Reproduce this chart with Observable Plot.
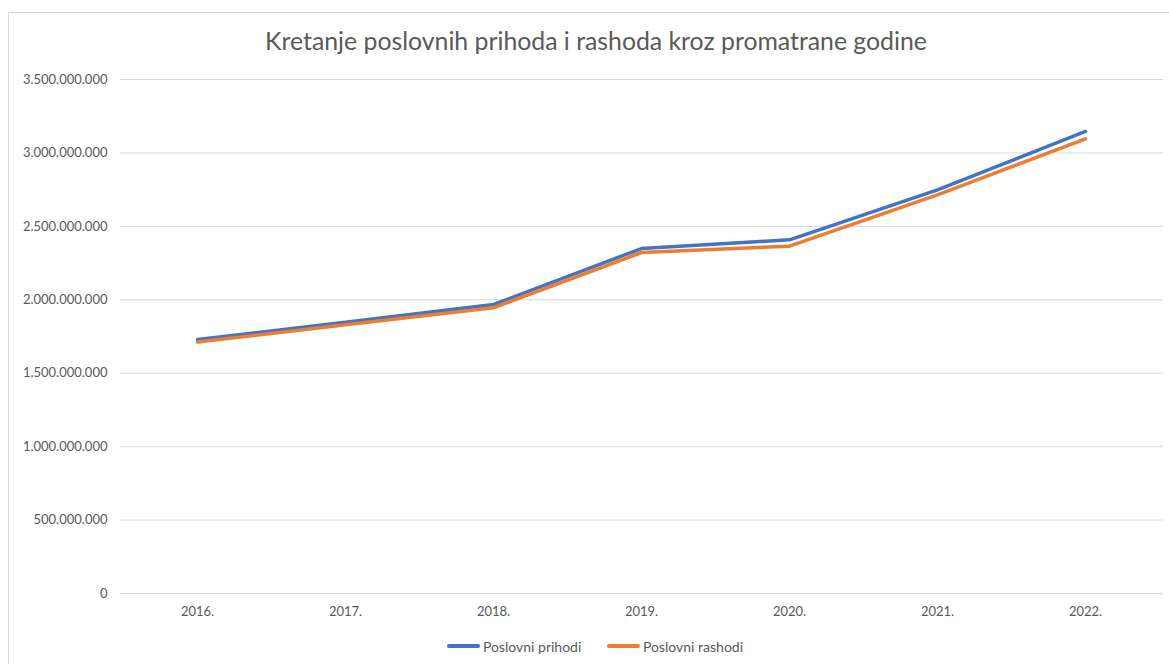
<!DOCTYPE html>
<html>
<head>
<meta charset="utf-8">
<script src="https://cdn.jsdelivr.net/npm/d3@7"></script>
<script src="https://cdn.jsdelivr.net/npm/@observablehq/plot@0.6"></script>
<style>
  html, body { margin: 0; padding: 0; background: #fff; }
  body { width: 1169px; height: 664px; position: relative; overflow: hidden; font-family: Lato, "Open Sans", sans-serif; }
  #frame { position: absolute; left: 8px; top: 12px; width: 1200px; height: 700px; border-left: 1px solid #d9d9d9; border-top: 1px solid #d9d9d9; }
  #title { position: absolute; left: 0; top: 26px; width: 1192px; text-align: center; font-size: 24.8px; color: #595959; }
  #chart { position: absolute; left: 0; top: 60px; }
  #legend { position: absolute; top: 636px; left: 0; width: 1169px; height: 20px; }
  .item { position: absolute; top: 0; display: flex; align-items: center; font-size: 14px; color: #595959; height: 20px; }
  .swatch { width: 33px; height: 4px; border-radius: 2px; margin-right: 3px; }
</style>
</head>
<body>
<div id="frame"></div>
<div id="title"></div>
<div id="chart"></div>
<div id="legend"></div>
<script>
const title = "Kretanje poslovnih prihoda i rashoda kroz promatrane godine";
const years = ["2016.", "2017.", "2018.", "2019.", "2020.", "2021.", "2022."];
const seriesNames = ["Poslovni prihodi", "Poslovni rashodi"];
const prihodi = [1729e6, 1847e6, 1968e6, 2349e6, 2408e6, 2749e6, 3146e6];
const rashodi = [1712e6, 1830e6, 1945e6, 2322e6, 2365e6, 2715e6, 3096e6];
const yTicks = [0, 500e6, 1000e6, 1500e6, 2000e6, 2500e6, 3000e6, 3500e6];
const colors = ["#4472C4", "#ED7D31"];

document.getElementById("title").textContent = title;

const data = [];
years.forEach((y, i) => {
  data.push({year: y, value: prihodi[i], series: seriesNames[0]});
  data.push({year: y, value: rashodi[i], series: seriesNames[1]});
});

const fmt = d3.formatLocale({decimal: ",", thousands: ".", grouping: [3], currency: ["", ""]}).format(",");

const plot = Plot.plot({
  width: 1169,
  height: 570,
  marginTop: 19,
  marginBottom: 37,
  marginLeft: 120,
  marginRight: 6,
  style: {fontFamily: "Lato, 'Open Sans', sans-serif", fontSize: "13px", color: "#595959", background: "transparent"},
  x: {type: "point", domain: years, padding: 0.5, insetLeft: 2, insetRight: 3, label: null},
  y: {domain: [0, 3500e6], label: null},
  color: {domain: seriesNames, range: colors},
  marks: [
    Plot.ruleY(yTicks, {stroke: "#d9d9d9", strokeWidth: 1}),
    Plot.axisY({ticks: yTicks, tickFormat: fmt, tickSize: 0, tickPadding: 13, label: null, fill: "#595959"}),
    Plot.axisX({tickSize: 0, tickPadding: 13, label: null, fill: "#595959"}),
    Plot.line(data, {x: "year", y: "value", z: "series", stroke: "series", strokeWidth: 3.5, strokeLinecap: "round", strokeLinejoin: "round"})
  ]
});
document.getElementById("chart").appendChild(plot);

const legend = document.getElementById("legend");
const lefts = [447, 607];
seriesNames.forEach((name, i) => {
  const it = document.createElement("div");
  it.className = "item";
  it.style.left = lefts[i] + "px";
  const sw = document.createElement("div");
  sw.className = "swatch";
  sw.style.background = colors[i];
  const tx = document.createElement("span");
  tx.textContent = name;
  it.appendChild(sw);
  it.appendChild(tx);
  legend.appendChild(it);
});
</script>
</body>
</html>
